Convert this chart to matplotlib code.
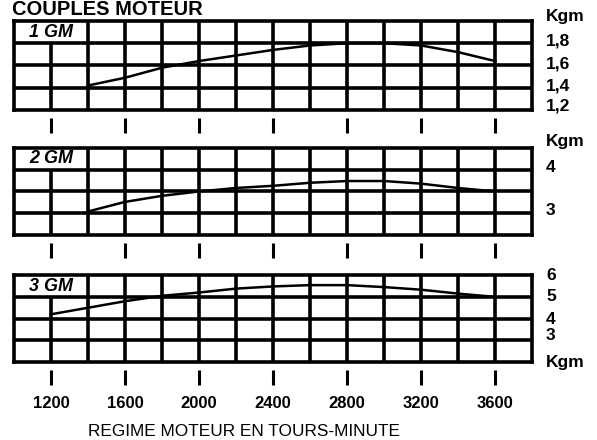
import matplotlib.pyplot as plt

plt.rcParams['font.family'] = ['Liberation Sans', 'DejaVu Sans']

# Engine torque (kgm) against engine speed (rpm)

rpm_1gm = [1400, 1600, 1800, 2000, 2200, 2400, 2600, 2800, 3000, 3200, 3400, 3600]
kgm_1gm = [1.42, 1.49, 1.58, 1.64, 1.69, 1.74, 1.78, 1.80, 1.80, 1.78, 1.72, 1.64]

rpm_2gm = [1400, 1600, 1800, 2000, 2200, 2400, 2600, 2800, 3000, 3200, 3400, 3600]
kgm_2gm = [3.04, 3.26, 3.40, 3.50, 3.58, 3.63, 3.70, 3.74, 3.74, 3.68, 3.58, 3.50]

rpm_3gm = [1200, 1400, 1600, 1800, 2000, 2200, 2400, 2600, 2800, 3000, 3200, 3400, 3600]
kgm_3gm = [4.20, 4.50, 4.80, 5.05, 5.20, 5.38, 5.48, 5.54, 5.54, 5.45, 5.33, 5.15, 5.00]

rpm_ticks = [1200, 1600, 2000, 2400, 2800, 3200, 3600]
rpm_grid = [1000, 1200, 1400, 1600, 1800, 2000, 2200, 2400, 2600, 2800, 3000, 3200, 3400, 3600, 3800]

rows_1gm = [1.2, 1.4, 1.6, 1.8, 2.0]
rows_2gm = [2.5, 3.0, 3.5, 4.0, 4.5]
rows_3gm = [2, 3, 4, 5, 6]

names = ['1 GM', '2 GM', '3 GM']
right_labels_1gm = ['Kgm', '1,8', '1,6', '1,4', '1,2']
right_labels_2gm = ['Kgm', '4', '3']
right_labels_3gm = ['6', '5', '4', '3', 'Kgm']

# where the right-hand labels sit (axes fraction, y)
label_pos_1gm = [1.05, 0.77, 0.52, 0.27, 0.05]
label_pos_2gm = [1.07, 0.78, 0.28]
label_pos_3gm = [1.0, 0.75, 0.49, 0.31, 0.0]

# Figure

fig = plt.figure(figsize=(5.97, 4.40), dpi=100)

panels = [
    (rpm_1gm, kgm_1gm, rows_1gm, right_labels_1gm, label_pos_1gm, 0.750, 0.2023),
    (rpm_2gm, kgm_2gm, rows_2gm, right_labels_2gm, label_pos_2gm, 0.466, 0.1977),
    (rpm_3gm, kgm_3gm, rows_3gm, right_labels_3gm, label_pos_3gm, 0.177, 0.1977),
]

grid_lw = 2.6
axes = []
for name, (xs, ys, rows, rlabels, rpos, bottom, height) in zip(names, panels):
    ax = fig.add_axes([0.0235, bottom, 0.8677, height])
    ax.set_xlim(rpm_grid[0], rpm_grid[-1])
    ax.set_ylim(rows[0], rows[-1])
    ax.set_xticks([])
    ax.set_yticks([])
    for sp in ax.spines.values():
        sp.set_linewidth(grid_lw)

    # grid; the 1200 line stops under the name box
    for r in rpm_grid[1:-1]:
        top = rows[-2] if r == rpm_grid[1] else rows[-1]
        ax.vlines(r, rows[0], top, color='black', lw=grid_lw)
    ax.hlines(rows[1:-1], rpm_grid[0], rpm_grid[-1], color='black', lw=grid_lw)

    ax.plot(xs, ys, color='black', lw=1.8, solid_joinstyle='round')

    ax.text(rpm_grid[1], (rows[-1] + rows[-2]) / 2, name, ha='center', va='center',
            fontsize=13, weight='bold', style='italic')

    for s, p in zip(rlabels, rpos):
        ax.text(1.027, p, s, transform=ax.transAxes, ha='left', va='center',
                fontsize=12.5, weight='bold')

    ax.vlines(rpm_ticks, -0.26, -0.09, transform=ax.get_xaxis_transform(),
              color='black', lw=2.2, clip_on=False)
    axes.append(ax)

for r in rpm_ticks:
    axes[-1].text(r, -0.48, str(r), transform=axes[-1].get_xaxis_transform(),
                  ha='center', va='center', fontsize=12, weight='bold')

fig.text(12 / 597, 1 - 15 / 440, 'COUPLES MOTEUR', ha='left', va='baseline',
         fontsize=14.5, weight='bold')
fig.text(244 / 597, 4 / 440, 'REGIME MOTEUR EN TOURS-MINUTE', ha='center', va='baseline',
         fontsize=12.4)

fig.savefig('out.png', dpi=100, facecolor='white')
